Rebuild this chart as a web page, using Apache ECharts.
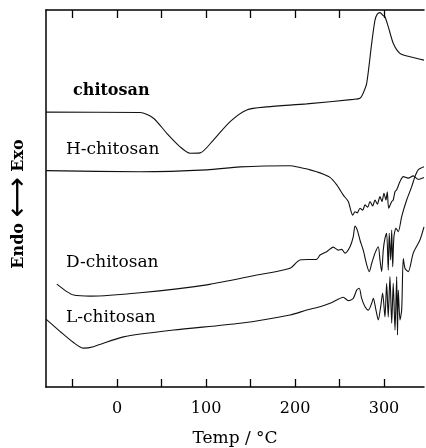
<!DOCTYPE html>
<html>
<head>
<meta charset="utf-8">
<script src="https://cdn.jsdelivr.net/npm/echarts@6/dist/echarts.min.js"></script>
<style>
  html, body { margin: 0; padding: 0; background: #fff; }
  #chart { width: 426px; height: 448px; }
</style>
</head>
<body>
<div id="chart"></div>
<script>
// DSC traces, temperature in °C, heat flow in arbitrary units (curves stacked)
const tickTemps = [-50, 0, 50, 100, 150, 200, 250, 300]
const labelTemps = [0, 100, 200, 300]

const chitosanT = [-80, 25.8, 40.8, 55.8, 70.8, 82, 93.3, 108.2, 127, 145.7, 168.2, 213.1, 265.5, 273, 276.7, 280.6, 286.2, 289.9, 292.5, 295.5, 299.2, 301.1, 304.8, 310.4, 317.9, 329.2, 345]
const chitosanY = [72.9, 72.8, 71.3, 67.3, 63.7, 62.0, 62.1, 65.5, 70.4, 73.5, 74.3, 75.1, 76.3, 76.6, 78.0, 80.6, 91.2, 97.3, 98.9, 99.3, 98.5, 98.2, 95.6, 91.2, 88.5, 87.6, 86.7]

const hChitosanT = [-80, 25.8, 100.8, 138.2, 194.4, 205.6, 216.9, 228.1, 239.3, 246.9, 254.3, 259.9, 262.6, 264.8, 267.4, 270, 273, 276.1, 278.7, 281.7, 284.3, 287.3, 289.9, 292.5, 295.5, 297.8, 300, 302.2, 303.7, 305.3, 308.7, 310.4, 312.4, 314.3, 318, 321.7, 327.3, 332.9, 338.5, 345]
const hChitosanY = [57.4, 57.1, 57.6, 58.4, 58.7, 58.2, 57.6, 56.8, 55.6, 53.6, 50.9, 49.2, 46.9, 45.6, 46.5, 46.2, 47.4, 46.9, 48.3, 47.7, 49.2, 48.0, 49.6, 48.5, 50.5, 49.2, 51.4, 49.6, 51.8, 47.4, 49.2, 49.6, 51.8, 52.3, 54.5, 55.8, 55.4, 56.0, 55.1, 55.6]

const dChitosanT = [-67.8, -56.5, -49.1, -30.3, 25.8, 100.8, 157, 194.4, 205.6, 224.4, 228.1, 235.6, 243, 248.7, 252.5, 256.2, 261.8, 265.5, 267.4, 270, 273, 276.7, 280.6, 283.5, 286.2, 289.9, 293.6, 295.5, 297.4, 299.2, 301.1, 303, 304.8, 305.9, 307.5, 308.7, 309.8, 311.2, 313.5, 316.1, 319.9, 325.5, 331.1, 334.8, 338.5, 345]
const dChitosanY = [27.3, 25.3, 24.4, 24.1, 25.0, 27.1, 29.7, 31.5, 33.7, 33.9, 35.0, 35.9, 37.1, 36.3, 36.5, 35.5, 37.2, 39.9, 42.7, 41.6, 39.0, 36.3, 32.4, 30.6, 32.8, 35.5, 37.2, 33.7, 30.6, 36.3, 39.4, 40.8, 31.0, 40.8, 33.7, 41.6, 31.9, 39.9, 42.1, 41.2, 45.2, 49.6, 53.1, 55.8, 57.6, 58.4]

const lChitosanT = [-80, -64, -49.1, -37.9, -26.6, 7.1, 63.3, 138.2, 194.4, 213.1, 228.1, 239.3, 246.9, 254.3, 259.9, 265.5, 269.3, 272.2, 274.9, 278.7, 282.4, 286.2, 288, 291, 293.6, 296.3, 298.5, 301.1, 303, 304.8, 306.7, 308.7, 310.4, 312.4, 314.3, 315.2, 316.1, 318, 319.9, 321.7, 323.6, 327.3, 332.9, 340.4, 345]
const lChitosanY = [18.0, 14.7, 11.8, 10.3, 10.7, 13.3, 15.1, 16.9, 19.1, 20.4, 21.3, 22.2, 23.1, 23.8, 22.9, 23.5, 25.7, 26.2, 23.5, 21.3, 20.4, 22.2, 23.5, 20.4, 17.8, 21.3, 24.9, 18.6, 27.5, 18.6, 29.3, 16.9, 27.5, 15.1, 29.3, 13.8, 25.7, 17.8, 20.4, 34.1, 31.5, 30.6, 35.5, 39.0, 42.5]

const zip = (xs, ys) => xs.map((x, i) => [x, ys[i]])
const font = 'DejaVu Serif'

const line = (name, xs, ys) => ({
  name: name,
  type: 'line',
  showSymbol: false,
  smooth: 0.25,
  lineStyle: { color: '#111', width: 1.1 },
  data: zip(xs, ys)
})

const chart = echarts.init(document.getElementById('chart'), null, { renderer: 'canvas' })
chart.setOption({
  animation: false,
  backgroundColor: '#fff',
  grid: { left: 46, right: 2, top: 10, bottom: 61, outerBoundsMode: 'none', containLabel: false },
  xAxis: [
    {
      type: 'value',
      min: -80,
      max: 345,
      position: 'bottom',
      name: 'Temp / °C',
      nameLocation: 'middle',
      nameGap: 43,
      nameTextStyle: { fontFamily: font, fontSize: 17, color: '#000' },
      axisLine: { show: true, onZero: false, lineStyle: { color: '#000', width: 1.5 } },
      axisTick: { show: true, inside: true, length: 8, customValues: tickTemps, lineStyle: { color: '#000', width: 1.3 } },
      axisLabel: { show: true, customValues: labelTemps, margin: 14, fontFamily: font, fontSize: 16, color: '#000' },
      splitLine: { show: false }
    },
    {
      type: 'value',
      min: -80,
      max: 345,
      position: 'top',
      axisLine: { show: true, onZero: false, lineStyle: { color: '#000', width: 1.5 } },
      axisTick: { show: true, inside: true, length: 8, customValues: tickTemps, lineStyle: { color: '#000', width: 1.3 } },
      axisLabel: { show: false },
      splitLine: { show: false }
    }
  ],
  yAxis: {
    type: 'value',
    min: 0,
    max: 100,
    axisLine: { show: true, onZero: false, lineStyle: { color: '#000', width: 1.5 } },
    axisTick: { show: false },
    axisLabel: { show: false },
    splitLine: { show: false }
  },
  graphic: [
    { type: 'text', left: 73, top: 83, style: { text: 'chitosan', font: 'bold 16px "DejaVu Serif"', fill: '#000' } },
    { type: 'text', left: 66, top: 141, style: { text: 'H-chitosan', font: '17px "DejaVu Serif"', fill: '#000' } },
    { type: 'text', left: 66, top: 254, style: { text: 'D-chitosan', font: '17px "DejaVu Serif"', fill: '#000' } },
    { type: 'text', left: 66, top: 309, style: { text: 'L-chitosan', font: '17px "DejaVu Serif"', fill: '#000' } },
    {
      type: 'text',
      x: 19,
      y: 204,
      rotation: Math.PI / 2,
      style: {
        text: '{w|Endo }{a|⟷}{w| Exo}',
        align: 'center',
        verticalAlign: 'middle',
        rich: {
          w: { fontFamily: font, fontWeight: 'bold', fontSize: 16, fill: '#000', verticalAlign: 'middle' },
          a: { fontFamily: 'DejaVu Sans', fontSize: 28, fill: '#000', verticalAlign: 'middle' }
        }
      }
    }
  ],
  series: [
    line('chitosan', chitosanT, chitosanY),
    line('H-chitosan', hChitosanT, hChitosanY),
    line('D-chitosan', dChitosanT, dChitosanY),
    line('L-chitosan', lChitosanT, lChitosanY)
  ]
})
</script>
</body>
</html>
